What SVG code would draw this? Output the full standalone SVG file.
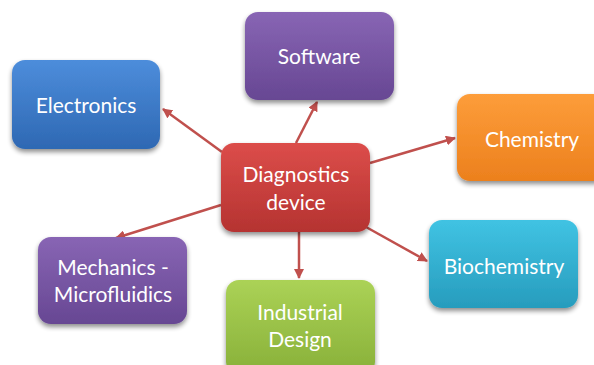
<svg xmlns="http://www.w3.org/2000/svg" width="594" height="365" viewBox="0 0 594 365">
  <defs>
    <style>
      .lbl { font-family: Lato, "Open Sans", "Liberation Sans", sans-serif; font-size: 21px; fill: #ffffff; text-anchor: middle; }
      .box { filter: url(#shadow); }
      .edge { stroke: #c0504d; stroke-width: 2.5; fill: none; marker-end: url(#arrow); }
    </style>
    <filter id="shadow" x="-20%" y="-20%" width="140%" height="150%">
      <feGaussianBlur in="SourceAlpha" stdDeviation="2.5"/>
      <feOffset dx="0" dy="3" result="b"/>
      <feComponentTransfer><feFuncA type="linear" slope="0.45"/></feComponentTransfer>
      <feMerge><feMergeNode/><feMergeNode in="SourceGraphic"/></feMerge>
    </filter>
    <marker id="arrow" viewBox="0 0 10 10" refX="9" refY="5" markerWidth="4" markerHeight="4" orient="auto" markerUnits="strokeWidth">
      <path d="M0,0 L10,5 L0,10 z" fill="#c0504d"/>
    </marker>
    <linearGradient id="gBlue" x1="0" y1="0" x2="0" y2="1">
      <stop offset="0" stop-color="#4d8ddb"/><stop offset="1" stop-color="#2e68b3"/>
    </linearGradient>
    <linearGradient id="gRed" x1="0" y1="0" x2="0" y2="1">
      <stop offset="0" stop-color="#dc4d4a"/><stop offset="1" stop-color="#b53331"/>
    </linearGradient>
    <linearGradient id="gPurple" x1="0" y1="0" x2="0" y2="1">
      <stop offset="0" stop-color="#8865b4"/><stop offset="1" stop-color="#674793"/>
    </linearGradient>
    <linearGradient id="gOrange" x1="0" y1="0" x2="0" y2="1">
      <stop offset="0" stop-color="#fd9d3a"/><stop offset="1" stop-color="#ec801d"/>
    </linearGradient>
    <linearGradient id="gCyan" x1="0" y1="0" x2="0" y2="1">
      <stop offset="0" stop-color="#40c3e3"/><stop offset="1" stop-color="#279cbd"/>
    </linearGradient>
    <linearGradient id="gGreen" x1="0" y1="0" x2="0" y2="1">
      <stop offset="0" stop-color="#abd256"/><stop offset="1" stop-color="#88b039"/>
    </linearGradient>
  </defs>

  <g id="connectors">
    <line class="edge" x1="222" y1="152" x2="163" y2="109"/>
    <line class="edge" x1="296" y1="143" x2="317" y2="102"/>
    <line class="edge" x1="370" y1="163" x2="455" y2="138"/>
    <line class="edge" x1="366" y1="227" x2="427" y2="261"/>
    <line class="edge" x1="299" y1="232" x2="299" y2="278"/>
    <line class="edge" x1="221" y1="205" x2="116" y2="238"/>
  </g>

  <g id="electronics">
    <rect class="box" x="12" y="60" width="148" height="89" rx="13" fill="url(#gBlue)"/>
    <text class="lbl" x="86" y="113">Electronics</text>
  </g>

  <g id="software">
    <rect class="box" x="245" y="12" width="149" height="88" rx="13" fill="url(#gPurple)"/>
    <text class="lbl" x="319" y="64">Software</text>
  </g>

  <g id="chemistry">
    <rect class="box" x="457" y="94" width="149" height="87" rx="13" fill="url(#gOrange)"/>
    <text class="lbl" x="532" y="147">Chemistry</text>
  </g>

  <g id="biochemistry">
    <rect class="box" x="429" y="220" width="149" height="88" rx="13" fill="url(#gCyan)"/>
    <text class="lbl" x="504" y="274">Biochemistry</text>
  </g>

  <g id="industrial-design">
    <rect class="box" x="226" y="280" width="149" height="95" rx="13" fill="url(#gGreen)"/>
    <text class="lbl" x="300" y="320">Industrial</text>
    <text class="lbl" x="300" y="347">Design</text>
  </g>

  <g id="mechanics-microfluidics">
    <rect class="box" x="38" y="237" width="149" height="87" rx="13" fill="url(#gPurple)"/>
    <text class="lbl" x="113" y="275">Mechanics -</text>
    <text class="lbl" x="113" y="302">Microfluidics</text>
  </g>

  <g id="diagnostics-device">
    <rect class="box" x="221" y="143" width="149" height="89" rx="13" fill="url(#gRed)"/>
    <text class="lbl" x="296" y="182">Diagnostics</text>
    <text class="lbl" x="296" y="210">device</text>
  </g>
</svg>
